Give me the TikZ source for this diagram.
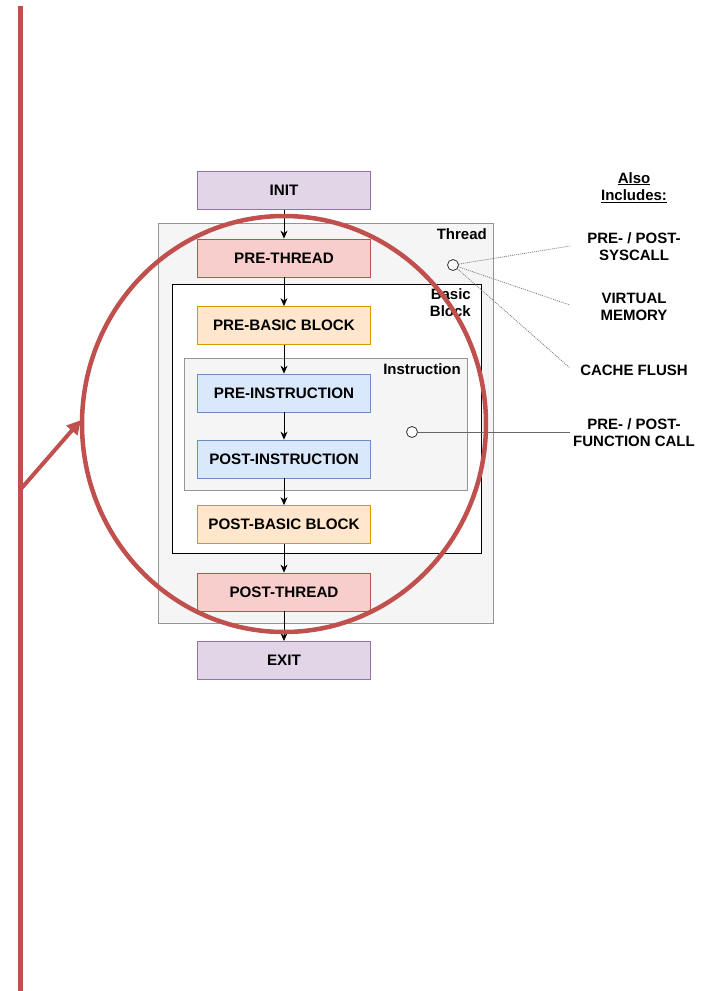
\documentclass[tikz,border=0pt]{standalone}
\usepackage{fontspec}
\setmainfont{Liberation Sans}
\usetikzlibrary{arrows.meta}
\definecolor{purpF}{HTML}{E1D5E7}\definecolor{purpD}{HTML}{9673A6}
\definecolor{redF}{HTML}{F8CECC}\definecolor{redD}{HTML}{B85450}
\definecolor{orF}{HTML}{FFE6CC}\definecolor{orD}{HTML}{D79B00}
\definecolor{blF}{HTML}{DAE8FC}\definecolor{blD}{HTML}{6C8EBF}
\definecolor{grF}{HTML}{F5F5F5}\definecolor{grD}{HTML}{666666}
\definecolor{markred}{HTML}{C0504D}
\tikzset{
  box/.style={draw, line width=0.8pt, minimum width=173pt, minimum height=38pt, inner sep=0pt,
     font=\fontsize{15.2}{17}\selectfont\bfseries},
  purp/.style={box, fill=purpF, draw=purpD},
  redb/.style={box, fill=redF, draw=redD},
  orb/.style={box, fill=orF, draw=orD},
  blb/.style={box, fill=blF, draw=blD},
  flow/.style={-{Stealth[length=8pt,width=7pt]}, line width=0.8pt},
  lbl/.style={font=\fontsize{15}{17.5}\selectfont\bfseries, align=center, inner sep=0pt},
  cont/.style={font=\fontsize{15}{17}\selectfont\bfseries, align=right, inner sep=0pt},
  hook/.style={circle, draw=black!80, fill=white, line width=0.8pt, minimum size=11pt, inner sep=0pt},
}
\begin{document}
\begin{tikzpicture}[x=1pt,y=-1pt]
\useasboundingbox (0,0) rectangle (709,991);
\fill[white] (0,0) rectangle (709,991);
% containers
\draw[fill=grF, draw=grD!70, line width=0.9pt] (158,223) rectangle (493,623);
\draw[fill=white, draw=black, line width=1pt] (172,284) rectangle (481,553);
\draw[fill=grF, draw=grD!70, line width=0.9pt] (184,358) rectangle (467,490);
\node[cont, anchor=north east] (thr) at (487,228) {Thread};
\node[cont, anchor=north east] (bbl) at (471,288) {Basic\\Block};
\node[cont, anchor=north east] (ins) at (461,363) {Instruction};
% boxes
\node[purp] (init) at (284,190.5) {INIT};
\node[redb] (pth) at (284,258) {PRE-THREAD};
\node[orb] (pbb) at (284,325.5) {PRE-BASIC BLOCK};
\node[blb] (pin) at (284,393) {PRE-INSTRUCTION};
\node[blb] (poin) at (284,459) {POST-INSTRUCTION};
\node[orb] (pobb) at (284,524.5) {POST-BASIC BLOCK};
\node[redb] (poth) at (284,592) {POST-THREAD};
\node[purp] (exit) at (284,660.5) {EXIT};
\draw[flow] (init) -- (pth);
\draw[flow] (pth) -- (pbb);
\draw[flow] (pbb) -- (pin);
\draw[flow] (pin) -- (poin);
\draw[flow] (poin) -- (pobb);
\draw[flow] (pobb) -- (poth);
\draw[flow] (poth) -- (exit);
% right labels
\node[lbl] (also) at (634,187.5) {\underline{Also}\\\underline{Includes:}};
\node[lbl] (sys) at (634,246.5) {PRE- / POST-\\SYSCALL};
\node[lbl] (vm) at (634,307) {VIRTUAL\\MEMORY};
\node[lbl] (cf) at (634,370) {CACHE FLUSH};
\node[lbl] (fc) at (634,432.5) {PRE- / POST-\\FUNCTION CALL};
\coordinate (sysE) at (570,246);
\coordinate (vmE) at (570,305);
\coordinate (cfE) at (570,368);
\coordinate (fcE) at (570,432);
\node[hook] (h1) at (453,265) {};
\node[hook] (h2) at (412,432) {};
\draw[gray, line width=0.8pt, dash pattern=on 1pt off 1pt] (h1) -- (sysE);
\draw[gray, line width=0.8pt, dash pattern=on 1pt off 1pt] (h1) -- (vmE);
\draw[gray, line width=0.8pt, dash pattern=on 1pt off 1pt] (h1) -- (cfE);
\draw[gray!80!black, line width=0.8pt] (h2) -- (fcE);
% red annotations
\draw[markred, line width=4.5pt] (284,424) ellipse [x radius=202, y radius=208];
\coordinate (lt) at (20,6);
\coordinate (lb) at (20,991);
\coordinate (as) at (20,490);
\coordinate (ae) at (81,420);
\draw[markred, line width=5pt] (lt) -- (lb);
\draw[markred, line width=4pt, -{Triangle[length=14pt,width=14pt]}] (as) -- (ae);
\end{tikzpicture}
\end{document}
